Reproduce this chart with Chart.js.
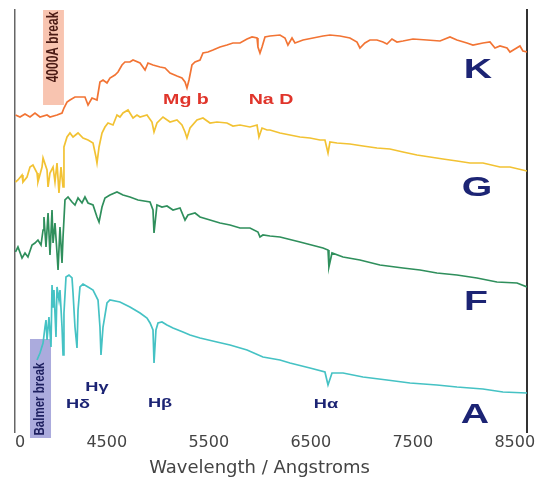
<!DOCTYPE html>
<html>
<head>
<meta charset="utf-8">
<script src="https://cdn.jsdelivr.net/npm/chart.js@4/dist/chart.umd.min.js"></script>
<style>
  html, body { margin:0; padding:0; background:#fff; }
  #wrap { position:absolute; left:14px; top:0; width:525px; height:477px; }
</style>
</head>
<body>
<div id="wrap"><canvas id="ch_spec"></canvas></div>
<script>
// wavelength (A) and offset flux (arbitrary units)
const waveK = [3605,3649,3698,3747,3796,3845,3914,3943,4012,4061,4080,4110,4139,4188,4237,4286,4316,4355,4404,4433,4463,4502,4531,4580,4610,4649,4678,4727,4757,4826,4875,4904,4953,5022,5071,5120,5188,5237,5267,5286,5306,5335,5365,5414,5443,5492,5541,5610,5678,5737,5806,5875,5924,5973,5982,6002,6022,6051,6100,6198,6247,6276,6316,6345,6424,6522,6620,6688,6786,6884,6953,6982,7031,7080,7149,7208,7247,7296,7345,7404,7502,7639,7767,7865,7933,8031,8090,8188,8257,8306,8355,8424,8453,8502,8551,8580,8620];
const fluxK = [317,315,318,315,319,315,317,315,317,319,324,330,332,335,335,335,327,334,332,350,352,349,354,357,360,367,370,370,372,369,362,369,367,365,364,359,356,354,350,344,352,367,370,372,379,380,382,385,387,389,389,393,395,394,385,379,385,395,396,397,394,387,394,389,392,394,396,397,396,394,390,384,389,392,392,390,388,393,390,391,393,392,391,395,392,389,387,389,390,384,386,384,380,383,386,381,380];

const waveG = [3605,3629,3669,3678,3718,3747,3776,3816,3825,3865,3875,3914,3924,3943,3973,3992,4012,4031,4051,4071,4080,4110,4139,4169,4218,4267,4316,4365,4394,4404,4424,4453,4482,4512,4561,4600,4629,4659,4708,4757,4796,4826,4894,4943,4963,4992,5051,5120,5188,5237,5267,5286,5316,5384,5443,5512,5580,5678,5737,5806,5904,5973,5992,6022,6071,6100,6198,6296,6394,6492,6590,6639,6669,6688,6757,6884,7012,7149,7276,7404,7541,7669,7796,7933,8061,8188,8355,8453,8620];
const fluxG = [250,252,257,250,255,265,267,259,250,265,274,262,245,259,265,250,269,239,265,245,285,295,299,295,299,294,292,289,275,269,285,299,305,309,307,317,315,319,322,314,317,315,317,310,300,309,315,310,312,307,300,294,304,312,314,309,310,309,306,307,305,307,295,304,302,302,299,297,295,294,292,292,279,290,289,288,286,284,283,280,277,275,273,271,269,269,265,265,261];

const waveF = [3605,3629,3669,3698,3727,3767,3796,3825,3855,3875,3884,3904,3924,3943,3963,3973,3992,4012,4022,4041,4061,4071,4090,4120,4159,4188,4218,4257,4286,4316,4365,4404,4424,4453,4482,4531,4600,4659,4727,4806,4924,4953,4963,4992,5041,5090,5149,5218,5267,5296,5365,5414,5512,5610,5708,5806,5904,5982,6002,6031,6100,6198,6394,6620,6669,6678,6708,6816,6982,7178,7404,7571,7737,7933,8129,8325,8522,8620];
const fluxF = [180,185,174,179,175,187,189,192,187,202,215,185,219,177,222,189,209,179,162,205,169,195,232,235,230,227,234,229,235,229,227,215,210,225,234,237,240,237,235,232,230,222,199,227,225,226,222,224,212,217,219,215,212,209,207,204,204,200,195,197,196,195,190,184,182,165,179,175,172,167,164,162,159,157,154,150,149,145];

const waveA = [3816,3845,3875,3894,3904,3914,3933,3953,3963,3973,3982,4002,4012,4031,4041,4061,4071,4080,4100,4129,4159,4169,4188,4208,4218,4237,4267,4316,4365,4414,4433,4443,4463,4502,4531,4629,4727,4826,4894,4924,4953,4963,4982,5002,5041,5090,5149,5247,5316,5414,5580,5708,5875,6031,6198,6296,6492,6639,6669,6708,6816,7012,7247,7473,7737,7933,8188,8384,8620];
const fluxA = [72,79,89,105,112,92,115,85,147,125,142,95,145,132,142,105,77,119,155,157,154,139,105,84,122,145,148,145,142,132,105,77,105,129,132,130,125,119,114,109,102,69,102,109,110,107,104,100,97,94,90,87,82,75,72,69,64,60,47,59,59,55,52,49,47,45,43,40,39];

const xTicks = [3500,4500,5500,6500,7500,8500];

const NAVY = '#1c2474';
const annotations = {
  boxes: [
    { x0:3875, x1:4080, y0:327, y1:422, color:'rgba(243,160,128,0.62)' },
    { x0:3747, x1:3953, y0:-6,  y1:93,  color:'rgba(120,120,200,0.62)' }
  ],
  texts: [
    { t:'4000A break',  x:3982, y:385, font:'bold 12px "Liberation Sans"',   color:'#4a1a14', rot:true },
    { t:'Balmer break', x:3845, y:33,  font:'bold 11.5px "Liberation Sans"', color:'#1e2060', rot:true },
    { t:'Mg b', x:5276, y:332, font:'bold 14px "Liberation Sans"', color:'#e0352b' },
    { t:'Na D', x:6110, y:332, font:'bold 14px "Liberation Sans"', color:'#e0352b' },
    { t:'K', x:8139, y:362, font:'bold 28px "Liberation Sans"', color:NAVY },
    { t:'G', x:8129, y:244, font:'bold 28px "Liberation Sans"', color:NAVY },
    { t:'F', x:8120, y:130, font:'bold 28px "Liberation Sans"', color:NAVY },
    { t:'A', x:8110, y:17,  font:'bold 28px "Liberation Sans"', color:NAVY },
    { t:'H\u03b3', x:4404, y:45, font:'bold 13px "Liberation Sans"', color:NAVY },
    { t:'H\u03b4', x:4218, y:28, font:'bold 13px "Liberation Sans"', color:NAVY },
    { t:'H\u03b2', x:5022, y:29, font:'bold 13px "Liberation Sans"', color:NAVY },
    { t:'H\u03b1', x:6649, y:28, font:'bold 13px "Liberation Sans"', color:NAVY }
  ]
};

const annotPlugin = {
  id:'annot',
  beforeDatasetsDraw(chart){
    const {ctx, scales:{x, y}} = chart;
    ctx.save();
    annotations.boxes.forEach(b => {
      const px0 = x.getPixelForValue(b.x0), px1 = x.getPixelForValue(b.x1);
      const py0 = y.getPixelForValue(b.y1), py1 = y.getPixelForValue(b.y0);
      ctx.fillStyle = b.color;
      ctx.fillRect(px0, py0, px1 - px0, py1 - py0);
    });
    ctx.restore();
  },
  afterDatasetsDraw(chart){
    const {ctx, scales:{x, y}} = chart;
    annotations.texts.forEach(a => {
      ctx.save();
      ctx.translate(x.getPixelForValue(a.x), y.getPixelForValue(a.y));
      if (a.rot){ ctx.rotate(-Math.PI/2); ctx.scale(1, 1.3); }
      else ctx.scale(1.4, 1);
      ctx.font = a.font;
      ctx.fillStyle = a.color;
      ctx.textAlign = 'center';
      ctx.textBaseline = 'middle';
      ctx.fillText(a.t, 0, 0);
      ctx.restore();
    });
  }
};

const toXY = (w, f) => w.map((v, i) => ({ x:v, y:f[i] }));
const line = (label, w, f, color) => ({ label, data:toXY(w, f), borderColor:color, borderWidth:1.7, pointRadius:0, tension:0, fill:false });

const yAxis = (pos, color, width) => ({
  type:'linear', position:pos, min:0, max:422,
  ticks:{ display:false }, grid:{ display:false, drawTicks:false },
  border:{ display:true, color, width },
  afterFit:(s) => { s.width = 0; }
});

new Chart(document.getElementById('ch_spec'), {
  type:'line',
  data:{ datasets:[
    line('K', waveK, fluxK, '#f27434'),
    line('G', waveG, fluxG, '#f2c233'),
    line('F', waveF, fluxF, '#2f8f5c'),
    line('A', waveA, fluxA, '#45c2c4')
  ]},
  options:{
    responsive:true, maintainAspectRatio:false, animation:false,
    layout:{ padding:{ left:1, right:12, top:10, bottom:0 } },
    plugins:{ legend:{ display:false }, tooltip:{ enabled:false } },
    scales:{
      x:{
        type:'linear', min:3600, max:8620,
        grid:{ display:false, drawTicks:false }, border:{ display:false },
        afterBuildTicks:(s) => { s.ticks = xTicks.map(v => ({ value:v })); },
        afterFit:(s) => { s.height = 45; s.paddingLeft = 0; s.paddingRight = 0; },
        ticks:{ autoSkip:false, maxRotation:0, padding:1, color:'#444', font:{ family:'"DejaVu Sans"', size:16 }, callback:(v) => String(v) },
        title:{ display:true, text:'Wavelength / Angstroms    ', color:'#444', padding:{ top:0, bottom:0 }, font:{ family:'"DejaVu Sans"', size:18, lineHeight:1 } }
      },
      y: yAxis('left', '#666', 1.5),
      y2: yAxis('right', '#333', 2)
    }
  },
  plugins:[annotPlugin]
});
</script>
</body>
</html>
